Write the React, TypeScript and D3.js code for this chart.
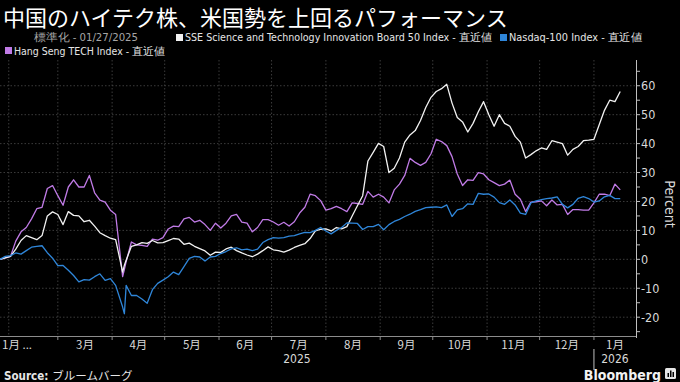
import React from "react";
import * as d3 from "d3";

const dates = [
  "2025-01-27","2025-01-30","2025-02-02","2025-02-05","2025-02-08","2025-02-11","2025-02-14","2025-02-17","2025-02-20","2025-02-23","2025-02-26",
  "2025-03-01","2025-03-04","2025-03-07","2025-03-10","2025-03-13","2025-03-16","2025-03-19","2025-03-22","2025-03-25","2025-03-28","2025-03-31",
  "2025-04-03","2025-04-07","2025-04-08","2025-04-09","2025-04-12","2025-04-15","2025-04-18","2025-04-21","2025-04-24","2025-04-27",
  "2025-04-30","2025-05-03","2025-05-06","2025-05-09","2025-05-12","2025-05-15","2025-05-18","2025-05-21","2025-05-24","2025-05-27","2025-05-30",
  "2025-06-02","2025-06-05","2025-06-08","2025-06-11","2025-06-14","2025-06-17","2025-06-20","2025-06-23","2025-06-26","2025-06-29",
  "2025-07-02","2025-07-05","2025-07-08","2025-07-11","2025-07-14","2025-07-17","2025-07-20","2025-07-23","2025-07-26","2025-07-29",
  "2025-08-01","2025-08-04","2025-08-07","2025-08-10","2025-08-13","2025-08-16","2025-08-19","2025-08-22","2025-08-25","2025-08-28","2025-08-31",
  "2025-09-03","2025-09-06","2025-09-09","2025-09-12","2025-09-15","2025-09-18","2025-09-21","2025-09-24","2025-09-27","2025-09-30",
  "2025-10-03","2025-10-06","2025-10-09","2025-10-12","2025-10-15","2025-10-18","2025-10-21","2025-10-24","2025-10-27","2025-10-30",
  "2025-11-02","2025-11-05","2025-11-08","2025-11-11","2025-11-14","2025-11-17","2025-11-20","2025-11-23","2025-11-26","2025-11-29",
  "2025-12-02","2025-12-05","2025-12-08","2025-12-11","2025-12-14","2025-12-17","2025-12-20","2025-12-23","2025-12-26","2025-12-29",
  "2026-01-01","2026-01-04","2026-01-07","2026-01-10","2026-01-13","2026-01-16",
];

const sseStar50 = [
  0, 0.5, 1, 3.5, 6.5, 8.2, 7.5, 6.8, 8.2, 15, 16.4,
  15.5, 12, 16.5, 15.2, 15, 13, 13.5, 11.5, 9.2, 8.2, 7.3,
  6.8, -4.4, -2, -0.3, 4.5, 5, 5.8, 5.5, 6.5, 5.7,
  5.8, 6.5, 7.2, 7, 5.2, 5.6, 4.5, 3.7, 2.9, 1.4, 2.5,
  2.4, 3.6, 4.2, 3, 2.2, 1.5, 0.9, 1.8, 3, 4.3,
  3.3, 3, 2.5, 3.2, 4.1, 4.8, 5.4, 7.2, 9.8, 10.4,
  10.5, 9.8, 11, 10.5, 11.3, 15, 18.5, 22, 34, 37, 40.1,
  39, 30, 31.5, 35, 40.5, 43, 44.5, 48, 52.5, 56,
  58, 59, 60.5, 54, 49, 47.5, 44, 47, 51, 54.5,
  50, 46, 50, 47, 46, 42.5, 40.5, 35, 36.2, 37.5,
  38.5, 38, 41, 40.5, 40, 36, 38, 39, 41, 41.2,
  41.5, 46.5, 51.5, 55, 54.5, 58,
];

const nasdaq100 = [
  0, 1, 1.3, 2.2, 1.8, 3, 4.2, 4.5, 4.7, 2.3, 0.4,
  -2.2, -2.1, -3.8, -5.6, -7.8, -7, -7.2, -6, -5, -7.3, -6.7,
  -9, -16.5, -18.8, -9, -12.5, -12.5, -13.7, -15.2, -10.5, -8.3,
  -7.2, -6, -4.4, -5.3, -2.5, 0.3, 1, 0.8, -0.6, 0.8, 1,
  2, 2.7, 3.6, 4, 3.3, 3.5, 3, 3.5, 5.8, 6.8,
  7.5, 7.3, 7.5, 8, 8.2, 8.8, 9.3, 9.2, 10, 11,
  9.8, 8.8, 10, 11, 12.6, 12.5, 12.4, 10.3, 11.3, 11.3, 12.1,
  10.2, 12, 13.1, 13.8, 14.8, 15.6, 16.6, 17.2, 17.9, 18,
  18.1, 17.9, 18.8, 14.8, 17.1, 17.5, 19.2, 19, 22.8, 22.5,
  22.6, 21.5, 19.6, 19, 20.5, 18.8, 16, 15.5, 19.5, 20.2,
  20.6, 21, 21.2, 21.6, 19, 17.8, 19, 21.1, 21.7, 21,
  19.8, 20.2, 21.6, 22.1, 21, 21,
];

const hangSengTech = [
  0, 0.5, 1, 6.3, 9.5, 11, 14, 17.5, 18, 24.5, 25.5,
  22, 18.7, 25, 27.5, 25, 25, 29, 23, 20.5, 19.8, 17,
  15.5, -6, -3.5, -0.8, 6, 5, 4.8, 4.5, 7, 6.6,
  7.5, 10.5, 11.5, 11.3, 14, 14.5, 12.9, 13.5, 12, 10, 12.5,
  10.8, 12.5, 15, 15.5, 12.9, 12.5, 9.5, 11, 13.7, 13.7,
  12.9, 11.8, 12.8, 11.5, 13, 16, 18, 22.5, 22, 20.3,
  17, 17.5, 18.3, 17.5, 16.5, 19.5, 19.3, 19, 23.5, 21.5, 22.5,
  21.5, 19.5, 24, 26, 29, 34.9, 33.5, 32.5, 33.5, 36.5,
  41.5, 40.7, 39.3, 35.5, 29.5, 25.5, 27.5, 27.3, 30, 29.5,
  27.5, 26.5, 25.5, 26, 27.4, 22.5, 20.8, 16.5, 19.8, 19.9,
  20.2, 18.5, 20.5, 18.8, 19, 15.5, 17.2, 17.2, 17, 17,
  19.5, 22.5, 22.5, 22, 26, 24,
];

const yTicks = [-20, -10, 0, 10, 20, 30, 40, 50, 60];
const monthLabels = ["1月 ...", "3月", "4月", "5月", "6月", "7月", "8月", "9月", "10月", "11月", "12月", "1月"];
const yearLabels = ["2025", "2026"];

const COLORS = { sse: "#f2f2f2", nasdaq: "#2f86d9", hs: "#c07be6" };
const NARROW = "'DejaVu Sans Condensed', 'Liberation Sans Narrow', 'Noto Sans', sans-serif";
const CJK = "'Noto Sans CJK JP', 'Noto Sans', sans-serif";

export default function App() {
  const W = 680, H = 382;
  const parse = d3.timeParse("%Y-%m-%d");
  const ds = dates.map((s) => parse(s) as Date);
  const start = parse("2025-01-27") as Date;
  const end = parse("2026-01-25") as Date;
  const plotL = 0, plotR = 636, plotT = 60, plotB = 336;
  const x = d3.scaleTime().domain([start, end]).range([plotL, plotR]);
  const y = d3.scaleLinear().domain([-26.5, 68.9]).range([plotB, plotT]);

  const line = d3.line<number>().x((_, i) => x(ds[i])).y((v) => y(v)).curve(d3.curveLinear);

  const monthStarts = d3.timeMonth.range(d3.timeMonth.ceil(start), end);
  const labelMonths = monthStarts.filter((m) => m.getMonth() !== 1);
  const labelPos = labelMonths.map((m) => {
    const next = d3.timeMonth.offset(m, 1);
    return (x(m) + Math.min(x(next), plotR)) / 2;
  });
  const jan2026 = monthStarts[monthStarts.length - 1];
  const minorTicks = d3.range(-25, 70, 5);

  const series = [
    { key: "hs", values: hangSengTech, color: COLORS.hs },
    { key: "sse", values: sseStar50, color: COLORS.sse },
    { key: "nasdaq", values: nasdaq100, color: COLORS.nasdaq },
  ];

  return (
    <svg width={W} height={H} style={{ position: "absolute", left: 0, top: 0, background: "#000" }}>
      <rect x={0} y={0} width={W} height={H} fill="#000" />
      <text x={3} y={26} fill="#fff" fontFamily={CJK} fontSize={22}>
        中国のハイテク株、米国勢を上回るパフォーマンス
      </text>
      {/* legend */}
      <g fontFamily={NARROW} fontSize={10.5}>
        <text x={34} y={41} fill="#a6a6a6" textLength={104} lengthAdjust="spacingAndGlyphs">標準化 - 01/27/2025</text>
        <rect x={176} y={34} width={7} height={7} fill={COLORS.sse} />
        <text x={185} y={41} fill="#e6e6e6" textLength={307} lengthAdjust="spacingAndGlyphs">SSE Science and Technology Innovation Board 50 Index - 直近値</text>
        <rect x={500} y={34} width={7} height={7} fill={COLORS.nasdaq} />
        <text x={509} y={41} fill="#e6e6e6" textLength={133} lengthAdjust="spacingAndGlyphs">Nasdaq-100 Index - 直近値</text>
        <rect x={5} y={47} width={7} height={7} fill={COLORS.hs} />
        <text x={14} y={54.5} fill="#e6e6e6" textLength={151} lengthAdjust="spacingAndGlyphs">Hang Seng TECH Index - 直近値</text>
      </g>
      {/* grid */}
      <g stroke="#4a4a4a" strokeWidth={0.8} strokeDasharray="1.5,2">
        {yTicks.map((t) => (
          <line key={"gy" + t} x1={plotL} x2={plotR} y1={y(t)} y2={y(t)} />
        ))}
        {monthStarts.map((m, i) => (
          <line key={"gx" + i} x1={x(m)} x2={x(m)} y1={plotT} y2={plotB} />
        ))}
      </g>
      {/* series */}
      {series.map((s) => (
        <path key={s.key} d={line(s.values) || ""} fill="none" stroke={s.color} strokeWidth={1.3} strokeLinejoin="round" />
      ))}
      {/* right axis */}
      <g stroke="#bfbfbf" strokeWidth={1}>
        <line x1={plotR + 0.5} x2={plotR + 0.5} y1={plotT} y2={plotB + 2} />
        {minorTicks.map((t) => (
          <line key={"mt" + t} x1={plotR} x2={plotR + 4} y1={y(t)} y2={y(t)} />
        ))}
      </g>
      <g fontFamily={NARROW} fontSize={12.5} fill="#d9d9d9">
        {yTicks.map((t) => (
          <text key={"yl" + t} x={plotR + 5} y={y(t)} dy="0.35em">{t}</text>
        ))}
      </g>
      <text transform={`translate(665,${(plotT + plotB) / 2 + 6}) rotate(90)`} textAnchor="middle" fontFamily={NARROW} fontSize={14} fill="#d9d9d9">
        Percent
      </text>
      {/* bottom axis */}
      <g stroke="#8c8c8c" strokeWidth={1}>
        <line x1={plotL} x2={plotR} y1={plotB + 0.5} y2={plotB + 0.5} />
        {labelMonths.map((m, i) => (
          <line key={"xt" + i} x1={x(m)} x2={x(m)} y1={plotB} y2={plotB + 4} />
        ))}
        <line x1={x(jan2026)} x2={x(jan2026)} y1={349} y2={370} stroke="#bfbfbf" />
      </g>
      <g fontFamily={CJK} fontSize={11.5} fill="#d9d9d9">
        <text x={2} y={349}>{monthLabels[0]}</text>
        {labelPos.map((p, i) => (
          <text key={"ml" + i} x={p} y={349} textAnchor="middle">{monthLabels[i + 1]}</text>
        ))}
      </g>
      <g fontFamily={NARROW} fontSize={12} fill="#d9d9d9" textAnchor="middle">
        <text x={(x(start) + x(jan2026)) / 2} y={363}>{yearLabels[0]}</text>
        <text x={(x(jan2026) + plotR) / 2} y={363}>{yearLabels[1]}</text>
      </g>
      {/* footer */}
      <text x={4} y={380} fontFamily={NARROW} fontSize={11.5} fill="#e6e6e6">
        <tspan fontWeight="bold">Source:</tspan>
        <tspan fontFamily={CJK} dx={4}>ブルームバーグ</tspan>
      </text>
      <text x={661} y={380} textAnchor="end" fontFamily="'DejaVu Sans Condensed', 'Roboto', sans-serif" fontWeight="bold" fontSize={14} fill="#f2f2f2">
        Bloomberg
      </text>
      <g>
        <rect x={665} y={368} width={11} height={11} rx={1.5} fill="#e6e6e6" />
        <rect x={667.5} y={373} width={1.5} height={4} fill="#000" />
        <rect x={670} y={370.5} width={1.5} height={6.5} fill="#000" />
        <rect x={672.5} y={372} width={1.5} height={5} fill="#000" />
      </g>
    </svg>
  );
}
